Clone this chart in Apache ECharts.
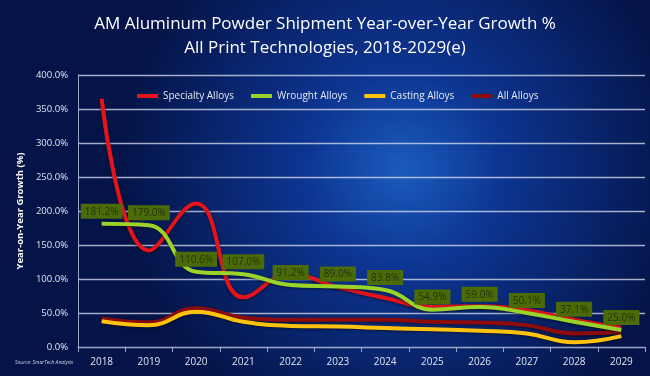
<!DOCTYPE html>
<html>
<head>
<meta charset="utf-8">
<script src="https://cdn.jsdelivr.net/npm/echarts@6/dist/echarts.min.js"></script>
<style>
  html, body { margin: 0; padding: 0; background: #041448; }
  #chart { width: 650px; height: 376px; }
</style>
</head>
<body>
<div id="chart"></div>
<script>
// years on the x axis
const years = ["2018", "2019", "2020", "2021", "2022", "2023", "2024", "2025", "2026", "2027", "2028", "2029"];
// growth % (wrought values from its labels)
const specialty = [365, 142, 211, 73, 107, 88, 72, 59, 60, 54, 40, 28];
const wrought = [181.2, 179.0, 110.6, 107.0, 91.2, 89.0, 83.8, 54.9, 59.0, 50.1, 37.1, 25.0];
const casting = [38, 32, 52, 37, 31, 30, 28, 26, 24, 20, 7, 16];
const allAlloys = [42, 36, 57, 43, 40, 40, 40, 37, 36, 32, 20, 22];
const yTicks = [0, 50, 100, 150, 200, 250, 300, 350, 400];

const chart = echarts.init(document.getElementById("chart"));

function lineSeries(name, data, color) {
  return {
    name: name,
    type: "line",
    data: data,
    smooth: 0.45,
    symbol: "circle",
    symbolSize: 0.1,
    lineStyle: { width: 4, color: color, shadowColor: "rgba(0,0,0,0.5)", shadowBlur: 3, shadowOffsetY: 1 },
    itemStyle: { color: color }
  };
}

const series = [
  lineSeries("All Alloys", allAlloys, "#8e0c0c"),
  lineSeries("Casting Alloys", casting, "#ffc20e"),
  lineSeries("Specialty Alloys", specialty, "#e3141b"),
  lineSeries("Wrought Alloys", wrought, "#9ad32a")
];
series[3].label = {
  show: true,
  position: "top",
  distance: 5,
  formatter: p => p.value.toFixed(1) + "%",
  color: "#23330a",
  fontSize: 10,
  fontFamily: "Open Sans",
  backgroundColor: "#4b6b08",
  padding: [3, 4, 2, 4]
};
series[3].labelLayout = { hideOverlap: false };

chart.setOption({
  backgroundColor: {
    type: "radial", x: 0.62, y: 0.45, r: 0.75,
    colorStops: [
      { offset: 0, color: "#1a5bbd" },
      { offset: 0.35, color: "#0d3591" },
      { offset: 1, color: "#041448" }
    ]
  },
  title: {
    text: "AM Aluminum Powder Shipment Year-over-Year Growth %\nAll Print Technologies, 2018-2029(e)",
    left: "center",
    top: 7,
    textStyle: { color: "#ffffff", fontSize: 17, fontWeight: "normal", fontFamily: "Open Sans", lineHeight: 24 }
  },
  legend: {
    data: ["Specialty Alloys", "Wrought Alloys", "Casting Alloys", "All Alloys"],
    top: 86,
    left: 132,
    itemWidth: 21,
    itemHeight: 4,
    itemGap: 17,
    icon: "rect",
    textStyle: { color: "#e4e8f4", fontSize: 10, fontFamily: "Open Sans" }
  },
  graphic: [{
    type: "text",
    left: 15,
    top: 360,
    style: { text: "Source: SmarTech Analysis", fill: "#d0d6e8", fontSize: 5, fontStyle: "italic", fontFamily: "Open Sans" }
  }],
  grid: { left: 78, right: 5, top: 75, bottom: 29 },
  xAxis: {
    type: "category",
    data: years,
    boundaryGap: true,
    axisLine: { lineStyle: { color: "#9aa6c8", width: 1 } },
    axisTick: { show: true, lineStyle: { color: "#9aa6c8" } },
    axisLabel: { color: "#dfe4f2", fontSize: 10, fontFamily: "Open Sans", margin: 10 }
  },
  yAxis: {
    type: "value",
    min: 0,
    max: 400,
    interval: 50,
    name: "Year-on-Year Growth (%)",
    nameLocation: "middle",
    nameGap: 48,
    nameTextStyle: { color: "#ffffff", fontSize: 9.5, fontWeight: "bold", fontFamily: "Open Sans" },
    axisLine: { show: true, lineStyle: { color: "#9aa6c8" } },
    axisLabel: {
      color: "#dfe4f2",
      fontSize: 9.5,
      fontFamily: "Open Sans",
      margin: 10,
      formatter: v => (yTicks.indexOf(v) >= 0 ? v.toFixed(1) + "%" : "")
    },
    splitLine: { lineStyle: { color: "rgba(220,226,240,0.75)", width: 1.3 } }
  },
  series: series
});
</script>
</body>
</html>
